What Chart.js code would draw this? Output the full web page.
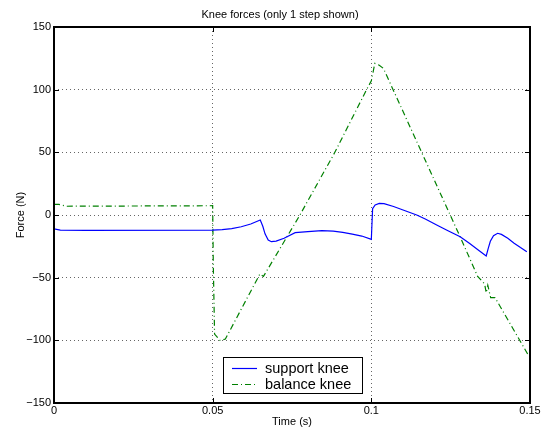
<!DOCTYPE html>
<html>
<head>
<meta charset="utf-8">
<script src="https://cdn.jsdelivr.net/npm/chart.js@4/dist/chart.umd.min.js"></script>
<style>
  html, body { margin: 0; padding: 0; background: #fff; }
  #wrap { width: 547px; height: 430px; }
</style>
</head>
<body>
<div id="wrap"><canvas id="c" width="547" height="430"></canvas></div>
<script>
// Knee forces.
const TITLE = "Knee forces (only 1 step shown)";
const X_LABEL = "Time (s)";
const Y_LABEL = "Force (N)";
const X_TICKS = [0, 0.05, 0.1, 0.15];
const Y_TICKS = [-150, -100, -50, 0, 50, 100, 150];

const supportTime = [0, 0.002, 0.01, 0.05, 0.053, 0.056, 0.059, 0.062, 0.065, 0.0658, 0.0665, 0.0675,
  0.0685, 0.070, 0.0725, 0.076, 0.080, 0.0844, 0.088, 0.091, 0.094, 0.097, 0.1, 0.1004, 0.1012, 0.1025,
  0.104, 0.107, 0.110, 0.1143, 0.117, 0.1206, 0.124, 0.128, 0.131, 0.134, 0.1362, 0.1368, 0.1375,
  0.1385, 0.1398, 0.141, 0.143, 0.145, 0.147, 0.149];
const supportForce = [-11, -12, -12.2, -12, -11.6, -10.8, -9.4, -7.2, -4, -9, -15, -20,
  -21.3, -20.8, -18.6, -14.1, -13.2, -12.5, -12.9, -13.8, -15.2, -16.8, -19.4, 5, 8, 9.3,
  9.1, 6.8, 4, 0, -3.2, -8, -12.3, -17.3, -22.7, -28.5, -32.7, -27, -21,
  -16.5, -14.6, -15.5, -18.5, -22.5, -26, -29.3];

const balanceTime = [0, 0.0015, 0.004, 0.05, 0.0502, 0.0506, 0.0523, 0.054, 0.0649, 0.066,
  0.0775, 0.0885, 0.0985, 0.1, 0.1011, 0.1025, 0.1038, 0.128, 0.1335, 0.1357, 0.1362, 0.1367,
  0.1376, 0.139, 0.1495];
const balanceForce = [8.5, 8.5, 7, 7.4, -40, -95, -100, -99, -47, -49,
  0, 50, 100, 107, 121, 119.5, 117, -17.5, -49, -55, -62, -56,
  -66, -66, -112];

const SERIES = [
  { label: "support knee", t: supportTime, f: supportForce, color: "#0000ff", dash: [] },
  { label: "balance knee", t: balanceTime, f: balanceForce, color: "#008000", dash: [6, 3, 1, 3] },
];

const FONT = "'Liberation Sans', Arial, Helvetica, sans-serif";

function fmtNum(v) {
  const s = String(+v.toFixed(2));
  return s.replace("-", "\u2212");
}

// frame, inward tick marks, title and legend in the MATLAB manner
const matlabDecor = {
  id: "matlabDecor",
  afterDatasetsDraw(chart) {
    const { ctx, chartArea: a, scales } = chart;
    ctx.save();
    ctx.strokeStyle = "#000";
    ctx.setLineDash([]);
    const L = Math.round(a.left), R = Math.round(a.right);
    const T = Math.round(a.top), B = Math.round(a.bottom);
    ctx.lineWidth = 2;
    ctx.strokeRect(L, T, R - L, B - T);
    ctx.lineWidth = 1;
    ctx.beginPath();
    const tl = 5;
    X_TICKS.forEach((v) => {
      const px = Math.round(scales.x.getPixelForValue(v)) + 0.5;
      ctx.moveTo(px, B); ctx.lineTo(px, B - tl);
      ctx.moveTo(px, T); ctx.lineTo(px, T + tl);
    });
    Y_TICKS.forEach((v) => {
      const py = Math.round(scales.y.getPixelForValue(v)) + 0.5;
      ctx.moveTo(L, py); ctx.lineTo(L + tl, py);
      ctx.moveTo(R, py); ctx.lineTo(R - tl, py);
    });
    ctx.stroke();

    // title
    ctx.fillStyle = "#000";
    ctx.font = "11px " + FONT;
    ctx.textAlign = "center";
    ctx.textBaseline = "middle";
    ctx.fillText(TITLE, 280, 15);

    // legend box
    const bx = 223.5, by = 357.5, bw = 139, bh = 36;
    ctx.fillStyle = "#fff";
    ctx.fillRect(bx, by, bw, bh);
    ctx.strokeRect(bx, by, bw, bh);
    ctx.font = "14.5px " + FONT;
    ctx.textAlign = "left";
    chart.data.datasets.forEach((ds, i) => {
      const y = by + 11 + i * 16;
      ctx.strokeStyle = ds.borderColor;
      ctx.lineWidth = 1.2;
      ctx.setLineDash(ds.borderDash || []);
      ctx.beginPath();
      ctx.moveTo(232, y); ctx.lineTo(257, y);
      ctx.stroke();
      ctx.setLineDash([]);
      ctx.fillStyle = "#000";
      ctx.fillText(ds.label, 265, y + 0.5);
    });
    ctx.restore();
  },
};

new Chart(document.getElementById("c"), {
  type: "line",
  data: {
    datasets: SERIES.map((s) => ({
      label: s.label,
      data: s.t.map((t, i) => ({ x: t, y: s.f[i] })),
      borderColor: s.color,
      borderDash: s.dash,
      borderWidth: 1.2,
      pointRadius: 0,
      tension: 0,
      fill: false,
    })),
  },
  options: {
    responsive: false,
    animation: false,
    events: [],
    layout: { padding: { top: 27, right: 17, bottom: 0, left: 0 } },
    plugins: { legend: { display: false }, title: { display: false }, tooltip: { enabled: false } },
    scales: {
      x: {
        type: "linear",
        min: 0,
        max: 0.15,
        afterFit: (s) => { s.height = 27; },
        afterBuildTicks: (s) => { s.ticks = X_TICKS.map((v) => ({ value: v })); },
        ticks: { color: "#000", font: { family: FONT, size: 11 }, padding: 1, maxRotation: 0,
          callback: (v) => fmtNum(v) },
        grid: { color: "#666", drawTicks: false, lineWidth: 1 },
        border: { display: false, dash: [1, 3] },
        title: { display: true, text: X_LABEL, color: "#000", font: { family: FONT, size: 11 },
          padding: { top: 0, bottom: 1 } },
      },
      y: {
        min: -150,
        max: 150,
        afterFit: (s) => { s.width = 54; },
        afterBuildTicks: (s) => { s.ticks = Y_TICKS.map((v) => ({ value: v })); },
        ticks: { color: "#000", font: { family: FONT, size: 11 }, padding: 3,
          callback: (v) => fmtNum(v) },
        grid: { color: "#666", drawTicks: false, lineWidth: 1 },
        border: { display: false, dash: [1, 3] },
        title: { display: true, text: Y_LABEL, color: "#000", font: { family: FONT, size: 11 },
          padding: { top: 14, bottom: 0 } },
      },
    },
  },
  plugins: [matlabDecor],
});
</script>
</body>
</html>
